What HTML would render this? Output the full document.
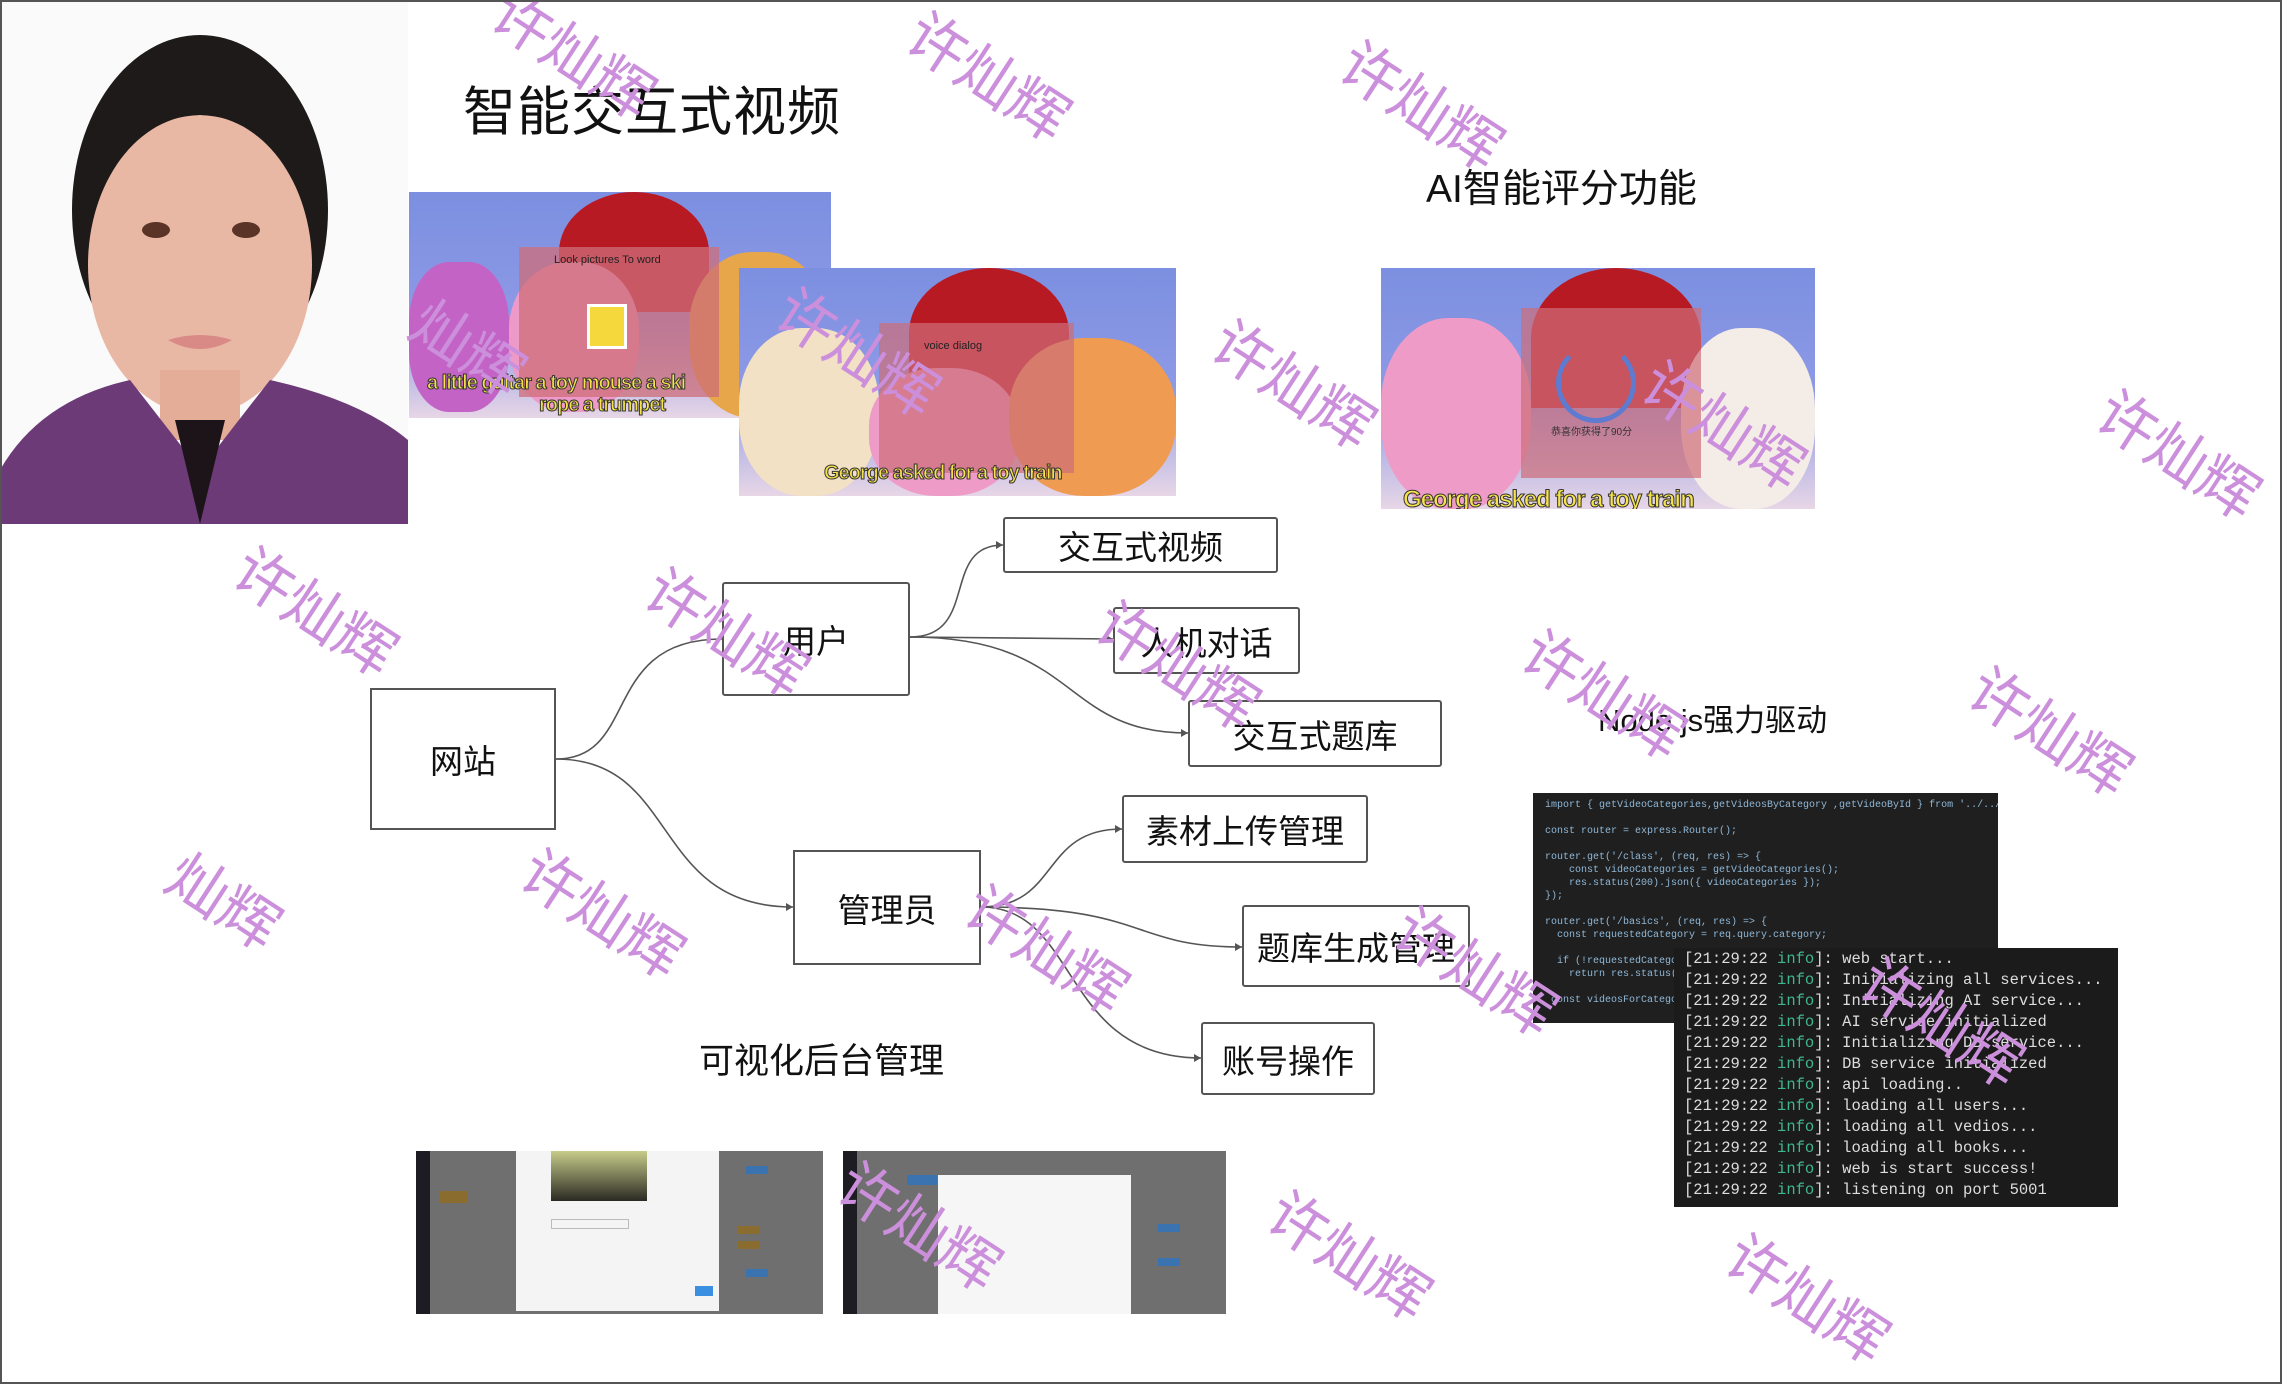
<!DOCTYPE html>
<html><head><meta charset="utf-8"><style>
*{margin:0;padding:0;box-sizing:border-box}
body{width:2282px;height:1384px;background:#fff;position:relative;overflow:hidden;font-family:"Liberation Sans","Noto Sans CJK SC",sans-serif}
.abs{position:absolute}
.box{position:absolute;border:2px solid #555;background:#fff;display:flex;align-items:center;justify-content:center;font-size:33px;color:#111;border-radius:3px}
.wm{position:absolute;width:240px;text-align:center;font-size:60px;color:#cc8fdc;transform:translate(-50%,-50%) rotate(33deg);white-space:nowrap;z-index:20;font-family:"Noto Sans CJK SC",sans-serif}
.term{font-family:"Liberation Mono",monospace;font-size:15.5px;color:#ddd;line-height:21px;white-space:pre;overflow:hidden}
.term b{color:#3fb68b;font-weight:normal}
.code{font-family:"Liberation Mono",monospace;font-size:10px;color:#8fb8d8;line-height:13px;white-space:pre;overflow:hidden}
</style></head><body>
<div class="abs" style="left:0;top:0;width:2282px;height:1384px;border:2px solid #555;z-index:30;pointer-events:none"></div>

<!-- cartoon 1 -->
<div class="abs" style="left:409px;top:192px;width:422px;height:226px;background:linear-gradient(#7c8fe0,#8e9ae6 60%,#e7d6e6);overflow:hidden">
 <div class="abs" style="left:150px;top:0;width:150px;height:120px;background:#b81a24;border-radius:50% 50% 0 0"></div>
 <div class="abs" style="left:0;top:70px;width:100px;height:150px;background:#c463c6;border-radius:40%"></div>
 <div class="abs" style="left:100px;top:70px;width:130px;height:150px;background:#ee9ac8;border-radius:45%"></div>
 <div class="abs" style="left:280px;top:60px;width:140px;height:166px;background:#e8a64a;border-radius:45%"></div>
 <div class="abs" style="left:110px;top:55px;width:200px;height:150px;background:rgba(205,110,120,.75)"></div>
 <div class="abs" style="left:145px;top:62px;font-size:11px;color:#222">Look pictures To word</div>
 <div class="abs" style="left:178px;top:112px;width:40px;height:45px;background:#f4d83c;border:3px solid #fff"></div>
 <div class="abs" style="left:18px;top:180px;font-size:20px;color:#f6e24a;font-weight:bold;-webkit-text-stroke:1px #333;white-space:nowrap;letter-spacing:-1px">a little guitar a toy mouse a ski</div>
 <div class="abs" style="left:130px;top:202px;font-size:20px;color:#f6e24a;font-weight:bold;-webkit-text-stroke:1px #333;letter-spacing:-1px">rope a trumpet</div>
</div>
<!-- cartoon 2 -->
<div class="abs" style="left:739px;top:268px;width:437px;height:228px;background:linear-gradient(#7c8fe0,#8e9ae6 55%,#e7d6e6);overflow:hidden">
 <div class="abs" style="left:170px;top:0;width:160px;height:130px;background:#b81a24;border-radius:50% 50% 0 0"></div>
 <div class="abs" style="left:0;top:60px;width:140px;height:168px;background:#f2e1c4;border-radius:45%"></div>
 <div class="abs" style="left:130px;top:100px;width:150px;height:128px;background:#ef9bc8;border-radius:45%"></div>
 <div class="abs" style="left:270px;top:70px;width:167px;height:158px;background:#ef9c52;border-radius:45%"></div>
 <div class="abs" style="left:140px;top:55px;width:195px;height:150px;background:rgba(205,110,120,.7)"></div>
 <div class="abs" style="left:185px;top:72px;font-size:11px;color:#222">voice dialog</div>
 <div class="abs" style="left:85px;top:194px;font-size:20px;color:#f6e24a;font-weight:bold;-webkit-text-stroke:1px #333;letter-spacing:-1px">George asked for a toy train</div>
</div>
<!-- cartoon 3 -->
<div class="abs" style="left:1381px;top:268px;width:434px;height:241px;background:linear-gradient(#7c8fe0,#8e9ae6 55%,#e7d6e6);overflow:hidden">
 <div class="abs" style="left:150px;top:0;width:170px;height:140px;background:#b81a24;border-radius:50% 50% 0 0"></div>
 <div class="abs" style="left:0;top:50px;width:150px;height:191px;background:#ef9bc8;border-radius:45%"></div>
 <div class="abs" style="left:300px;top:60px;width:134px;height:181px;background:#f4ece6;border-radius:45%"></div>
 <div class="abs" style="left:140px;top:40px;width:180px;height:170px;background:rgba(205,110,120,.7)"></div>
 <div class="abs" style="left:175px;top:75px;width:80px;height:80px;border:5px solid #5d7bd0;border-radius:50%;border-top-color:transparent"></div>
 <div class="abs" style="left:170px;top:155px;font-size:10px;color:#333">恭喜你获得了90分</div>
 <div class="abs" style="left:22px;top:218px;font-size:24px;color:#f6e24a;font-weight:bold;-webkit-text-stroke:1px #333;letter-spacing:-1px;white-space:nowrap">George asked for a toy train</div>
</div>

<!-- photo -->
<svg class="abs" style="left:0;top:0" width="408" height="524">
 <rect width="408" height="524" fill="#fafafa"/>
 <ellipse cx="200" cy="210" rx="128" ry="175" fill="#1e1a1a"/>
 <ellipse cx="200" cy="265" rx="112" ry="150" fill="#e9b8a4"/>
 <path d="M88 215 Q100 70 200 75 Q300 70 312 215 Q290 120 200 115 Q110 120 88 215Z" fill="#1e1a1a"/>
 <rect x="160" y="370" width="80" height="70" fill="#e3ad98"/>
 <path d="M0 470 Q40 400 130 380 L200 470 L270 380 Q360 400 408 440 L408 524 L0 524Z" fill="#6d3a78"/>
 <path d="M175 420 L200 524 L225 420 Z" fill="#1d141a"/>
 <ellipse cx="156" cy="230" rx="14" ry="8" fill="#5a3426"/>
 <ellipse cx="246" cy="230" rx="14" ry="8" fill="#5a3426"/>
 <path d="M168 340 Q200 358 232 340 Q200 330 168 340Z" fill="#d98a86"/>
</svg>

<div class="abs" style="left:463px;top:70px;font-size:53px;color:#111;letter-spacing:1px">智能交互式视频</div>
<div class="abs" style="left:1426px;top:158px;font-size:39px;color:#111">AI智能评分功能</div>
<div class="abs" style="left:699px;top:1033px;font-size:35px;color:#111">可视化后台管理</div>
<div class="abs" style="left:1598px;top:695px;font-size:31px;color:#111">Node.js强力驱动</div>

<!-- mind map connectors -->
<svg class="abs" style="left:0;top:0;z-index:1" width="2282" height="1384" fill="none" stroke="#555" stroke-width="1.6">
 <path d="M556 759 C640 759 600 639 722 639"/>
 <path d="M556 759 C680 759 650 907 793 907"/>
 <path d="M910 637 C980 637 940 545 1003 545"/>
 <path d="M910 637 L1113 639"/>
 <path d="M910 637 C1080 637 1060 733 1188 733"/>
 <path d="M981 907 C1060 907 1040 829 1122 829"/>
 <path d="M981 907 C1150 907 1130 947 1242 947"/>
 <path d="M981 907 C1080 907 1060 1058 1201 1058"/>
 <g fill="#555" stroke="none">
  <path d="M793 907 l-7 -4 v8z"/><path d="M1003 545 l-7 -4 v8z"/><path d="M1113 639 l-7 -4 v8z"/><path d="M1188 733 l-7 -4 v8z"/>
  <path d="M1122 829 l-7 -4 v8z"/><path d="M1242 947 l-7 -4 v8z"/><path d="M1201 1058 l-7 -4 v8z"/>
 </g>
</svg>
<div class="box" style="left:370px;top:688px;width:186px;height:142px;border-radius:0">网站</div>
<div class="box" style="left:722px;top:582px;width:188px;height:114px">用户</div>
<div class="box" style="left:793px;top:850px;width:188px;height:115px;border-radius:0">管理员</div>
<div class="box" style="left:1003px;top:517px;width:275px;height:56px">交互式视频</div>
<div class="box" style="left:1113px;top:607px;width:187px;height:67px">人机对话</div>
<div class="box" style="left:1188px;top:700px;width:254px;height:67px">交互式题库</div>
<div class="box" style="left:1122px;top:795px;width:246px;height:68px">素材上传管理</div>
<div class="box" style="left:1242px;top:905px;width:228px;height:82px">题库生成管理</div>
<div class="box" style="left:1201px;top:1022px;width:174px;height:73px">账号操作</div>

<!-- admin screenshots -->
<div class="abs" style="left:416px;top:1151px;width:407px;height:163px;background:#6f6f6f;overflow:hidden">
 <div class="abs" style="left:0;top:0;width:14px;height:163px;background:#1c1c22"></div>
 <div class="abs" style="left:24px;top:40px;width:28px;height:12px;background:#8a6d2e"></div>
 <div class="abs" style="left:100px;top:0;width:203px;height:160px;background:#f4f4f4"></div>
 <div class="abs" style="left:135px;top:0;width:96px;height:50px;background:linear-gradient(#c7cc8a,#2a2a22)"></div>
 <div class="abs" style="left:135px;top:68px;width:78px;height:10px;border:1px solid #bbb"></div>
 <div class="abs" style="left:279px;top:135px;width:18px;height:10px;background:#3b8fe0"></div>
 <div class="abs" style="left:330px;top:15px;width:22px;height:8px;background:#3b73b0"></div>
 <div class="abs" style="left:330px;top:118px;width:22px;height:8px;background:#3b73b0"></div>
 <div class="abs" style="left:322px;top:75px;width:22px;height:8px;background:#8a6d2e"></div>
 <div class="abs" style="left:322px;top:90px;width:22px;height:8px;background:#8a6d2e"></div>
</div>
<div class="abs" style="left:843px;top:1151px;width:383px;height:163px;background:#6f6f6f;overflow:hidden">
 <div class="abs" style="left:0;top:0;width:14px;height:163px;background:#1c1c22"></div>
 <div class="abs" style="left:64px;top:24px;width:30px;height:10px;background:#3b73b0"></div>
 <div class="abs" style="left:95px;top:24px;width:193px;height:139px;background:#f6f6f6"></div>
 <div class="abs" style="left:315px;top:73px;width:22px;height:8px;background:#3b73b0"></div>
 <div class="abs" style="left:315px;top:107px;width:22px;height:8px;background:#3b73b0"></div>
</div>

<!-- code & terminal -->
<div class="abs code" style="left:1533px;top:793px;width:465px;height:230px;background:#1f1f1f;padding:6px 12px">import { getVideoCategories,getVideosByCategory ,getVideoById } from '../../controllers/

const router = express.Router();

router.get('/class', (req, res) => {
    const videoCategories = getVideoCategories();
    res.status(200).json({ videoCategories });
});

router.get('/basics', (req, res) => {
  const requestedCategory = req.query.category;

  if (!requestedCategory
    return res.status(40

 const videosForCategory</div>
<div class="abs term" style="left:1674px;top:948px;width:444px;height:259px;background:#1b1b1b;padding:1px 0 0 10px">[21:29:22 <b>info</b>]: web start...
[21:29:22 <b>info</b>]: Initializing all services...
[21:29:22 <b>info</b>]: Initializing AI service...
[21:29:22 <b>info</b>]: AI service initialized
[21:29:22 <b>info</b>]: Initializing DB service...
[21:29:22 <b>info</b>]: DB service initialized
[21:29:22 <b>info</b>]: api loading..
[21:29:22 <b>info</b>]: loading all users...
[21:29:22 <b>info</b>]: loading all vedios...
[21:29:22 <b>info</b>]: loading all books...
[21:29:22 <b>info</b>]: web is start success!
[21:29:22 <b>info</b>]: listening on port 5001</div>

<!-- watermarks -->
<div class="wm" style="left:575px;top:51px">许灿辉</div>
<div class="wm" style="left:990px;top:73px">许灿辉</div>
<div class="wm" style="left:1423px;top:102px">许灿辉</div>
<div class="wm" style="left:2180px;top:451px">许灿辉</div>
<div class="wm" style="left:2052px;top:728px">许灿辉</div>
<div class="wm" style="left:1605px;top:691px">许灿辉</div>
<div class="wm" style="left:1725px;top:422px">许灿辉</div>
<div class="wm" style="left:1295px;top:381px">许灿辉</div>
<div class="wm" style="left:859px;top:349px">许灿辉</div>
<div class="wm" style="left:317px;top:608px">许灿辉</div>
<div class="wm" style="left:728px;top:629px">许灿辉</div>
<div class="wm" style="left:1179px;top:662px">许灿辉</div>
<div class="wm" style="left:604px;top:910px">许灿辉</div>
<div class="wm" style="left:226px;top:898px">灿辉</div>
<div class="wm" style="left:1048px;top:946px">许灿辉</div>
<div class="wm" style="left:1477px;top:968px">许灿辉</div>
<div class="wm" style="left:1943px;top:1019px">许灿辉</div>
<div class="wm" style="left:921px;top:1223px">许灿辉</div>
<div class="wm" style="left:1351px;top:1252px">许灿辉</div>
<div class="wm" style="left:1809px;top:1295px">许灿辉</div>
<div class="wm" style="left:470px;top:345px">灿辉</div>
</body></html>
